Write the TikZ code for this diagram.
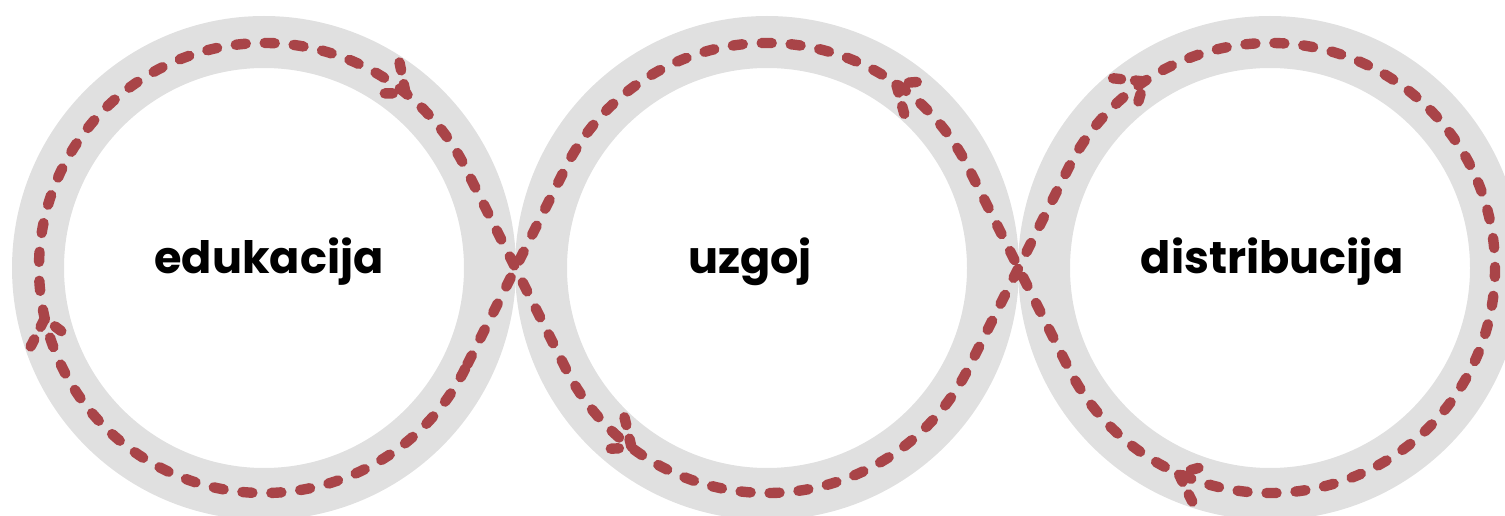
\documentclass[tikz,border=0pt]{standalone}
\usepackage{fontspec}
\setmainfont{Poppins}
\usetikzlibrary{calc}
\definecolor{ringgray}{HTML}{E0E0E0}
\definecolor{loopred}{HTML}{A94448}
\tikzset{
  ring/.style={circle, draw=ringgray, line width=26pt, minimum size=226pt, inner sep=0pt},
  dashline/.style={draw=loopred, line width=5.2pt, line cap=round, line join=round, dash pattern=on 5pt off 9.5pt},
  label/.style={font=\bfseries\fontsize{22.3}{26}\selectfont, text=black}
}
\begin{document}
\begin{tikzpicture}[x=0.5pt, y=0.5pt]
  \useasboundingbox (0,0) rectangle (1505,515);
  \coordinate (c1) at (264,247);
  \coordinate (c2) at (767,247);
  \coordinate (c3) at (1270,247);
  \foreach \c in {1,2,3}{
    \node[ring](ring\c) at (c\c) {};
  }
  % the loop: first and last circle clockwise, middle one the other way
  \draw[dashline] ($(c1)+(-26.5:225)$) arc[start angle=-26.5, end angle=-333.5, radius=225]
    -- ($(c2)+(206.5:225)$) arc[start angle=206.5, end angle=333.5, radius=225]
    -- ($(c3)+(153.5:225)$) arc[start angle=153.5, end angle=-153.5, radius=225]
    -- ($(c2)+(26.5:225)$) arc[start angle=26.5, end angle=153.5, radius=225]
    -- cycle;
  % arrow heads
  \foreach \c/\a/\d in {1/51/-90, 1/193/-90, 2/55/90, 2/233/90, 3/124/-90, 3/246/-90}{
    \begin{scope}[shift={($(c\c)+(\a:225)$)}, rotate=\a+\d]
      \draw[dashline, dash pattern=on 4pt off 7pt] (-24,20) -- (0,0) -- (-24,-20);
    \end{scope}
  }
  \node[label](edu) at ($(c1)+(5,6)$) {edukacija};
  \node[label](uzg) at ($(c2)+(-17,6)$) {uzgoj};
  \node[label](dis) at ($(c3)+(2,6)$) {distribucija};
\end{tikzpicture}
\end{document}
